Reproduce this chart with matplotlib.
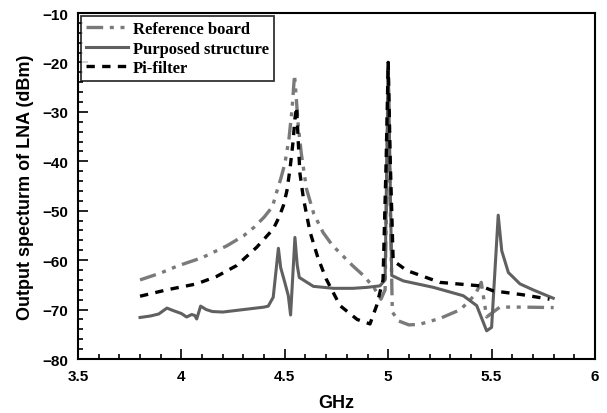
import matplotlib
matplotlib.use("Agg")
import matplotlib.pyplot as plt
from matplotlib.ticker import MultipleLocator

# Reference board (dash-dot-dot, gray)
ref_f = [3.80, 3.90, 3.98, 4.10, 4.22, 4.30, 4.35, 4.40, 4.44, 4.46, 4.48, 4.50,
         4.52, 4.535, 4.547, 4.556, 4.565, 4.58, 4.605, 4.64, 4.685, 4.73, 4.78,
         4.83, 4.88, 4.93, 4.965, 4.985, 4.995, 5.0, 5.008, 5.02, 5.05, 5.10,
         5.15, 5.25, 5.35, 5.42, 5.45, 5.476, 5.54, 5.65, 5.80]
ref_v = [-64.0, -62.6, -61.2, -59.5, -57.1, -55.1, -53.4, -51.3, -49.2, -46.3, -43.6, -40.5,
         -35.5, -29.5, -22.5, -27.5, -32.8, -38.5, -45.6, -50.6, -54.4, -57.0, -59.1,
         -61.2, -63.1, -65.5, -67.9, -66.0, -40.0, -21.0, -45.0, -70.5, -72.3, -73.1,
         -73.0, -71.8, -70.0, -67.0, -64.5, -71.5, -69.5, -69.5, -69.6]

# Purposed structure (solid, dark gray)
pur_f = [3.80, 3.85, 3.89, 3.93, 3.96, 4.00, 4.025, 4.05, 4.065, 4.074, 4.093,
         4.12, 4.15, 4.20, 4.30, 4.40, 4.42, 4.444, 4.469, 4.48, 4.50, 4.517,
         4.528, 4.549, 4.56, 4.57, 4.638, 4.735, 4.83, 4.90, 4.96, 4.985, 4.993,
         5.0, 5.008, 5.017, 5.073, 5.218, 5.363, 5.428, 5.476, 5.50, 5.532,
         5.549, 5.581, 5.637, 5.70, 5.798]
pur_v = [-71.6, -71.3, -70.9, -69.7, -70.2, -70.8, -71.5, -71.0, -71.2, -71.9, -69.3,
         -70.0, -70.4, -70.5, -70.0, -69.5, -69.3, -67.5, -57.6, -61.5, -64.5, -67.2,
         -71.1, -55.4, -61.0, -63.5, -65.3, -65.7, -65.7, -65.5, -65.2, -64.0, -40.0,
         -20.0, -40.0, -63.1, -64.2, -65.5, -67.2, -69.2, -74.3, -73.6, -50.9,
         -58.1, -62.5, -64.8, -66.0, -67.7]

# Pi-filter (dashed, black)
pi_f = [3.80, 3.93, 4.074, 4.17, 4.267, 4.364, 4.444, 4.47, 4.493, 4.51, 4.525,
        4.54, 4.549, 4.557, 4.565, 4.573, 4.59, 4.622, 4.66, 4.70, 4.767, 4.85,
        4.912, 4.944, 4.975, 4.99, 5.0, 5.01, 5.024, 5.09, 5.25, 5.444, 5.507,
        5.65, 5.78]
pi_v = [-67.3, -66.0, -64.8, -63.3, -61.1, -57.4, -53.7, -51.5, -49.0, -46.0, -41.6,
        -36.0, -31.4, -29.0, -36.0, -42.4, -47.5, -54.3, -59.5, -63.8, -69.2, -72.0,
        -72.9, -69.2, -64.0, -40.0, -20.0, -40.0, -60.1, -62.1, -64.5, -65.2, -66.2,
        -67.0, -67.9]

x_ticks = [3.5, 4, 4.5, 5, 5.5, 6]
x_ticklabels = ["3.5", "4", "4.5", "5", "5.5", "6"]
y_ticks = [-80, -70, -60, -50, -40, -30, -20, -10]

fig = plt.figure(figsize=(6.07, 4.14), dpi=100)
ax = fig.add_axes([78/607, 1 - 360/414, (595-78)/607, (360-14)/414])

ax.plot(ref_f, ref_v, color="#7a7a7a", lw=2.4, dashes=(5, 2, 1.2, 2, 1.2, 2),
        label="Reference board")
ax.plot(pur_f, pur_v, color="#606060", lw=2.2, ls="-", label="Purposed structure")
ax.plot(pi_f, pi_v, color="black", lw=2.4, dashes=(2.5, 2.2), label="Pi-filter")

ax.set_xlim(3.5, 6)
ax.set_ylim(-80, -10)
ax.set_xticks(x_ticks)
ax.set_xticklabels(x_ticklabels)
ax.set_yticks(y_ticks)
ax.xaxis.set_minor_locator(MultipleLocator(0.1))
ax.yaxis.set_minor_locator(MultipleLocator(2))
ax.tick_params(which="both", direction="in", top=False, right=False, width=1.2)
ax.tick_params(which="major", length=7, pad=7)
ax.tick_params(which="minor", length=3.5)
for lab in ax.get_xticklabels() + ax.get_yticklabels():
    lab.set_fontfamily("Liberation Sans")
    lab.set_fontweight("bold")
    lab.set_fontsize(11)
for sp in ax.spines.values():
    sp.set_linewidth(1.5)

ax.set_xlabel("GHz", fontfamily="Liberation Sans", fontweight="bold", fontsize=13, labelpad=8)
ax.set_ylabel("Output specturm of LNA (dBm)", fontfamily="Liberation Sans",
              fontweight="bold", fontsize=13, labelpad=6)

leg = ax.legend(loc="upper left", bbox_to_anchor=(0.0, 1.0), frameon=True, fancybox=False,
                edgecolor="black", borderaxespad=0.2, handlelength=2.5, handletextpad=0.3,
                labelspacing=0.2, borderpad=0.3,
                prop={"family": "Liberation Serif", "weight": "bold", "size": 12})
leg.get_frame().set_linewidth(1.3)

fig.savefig("out.png", dpi=100)
